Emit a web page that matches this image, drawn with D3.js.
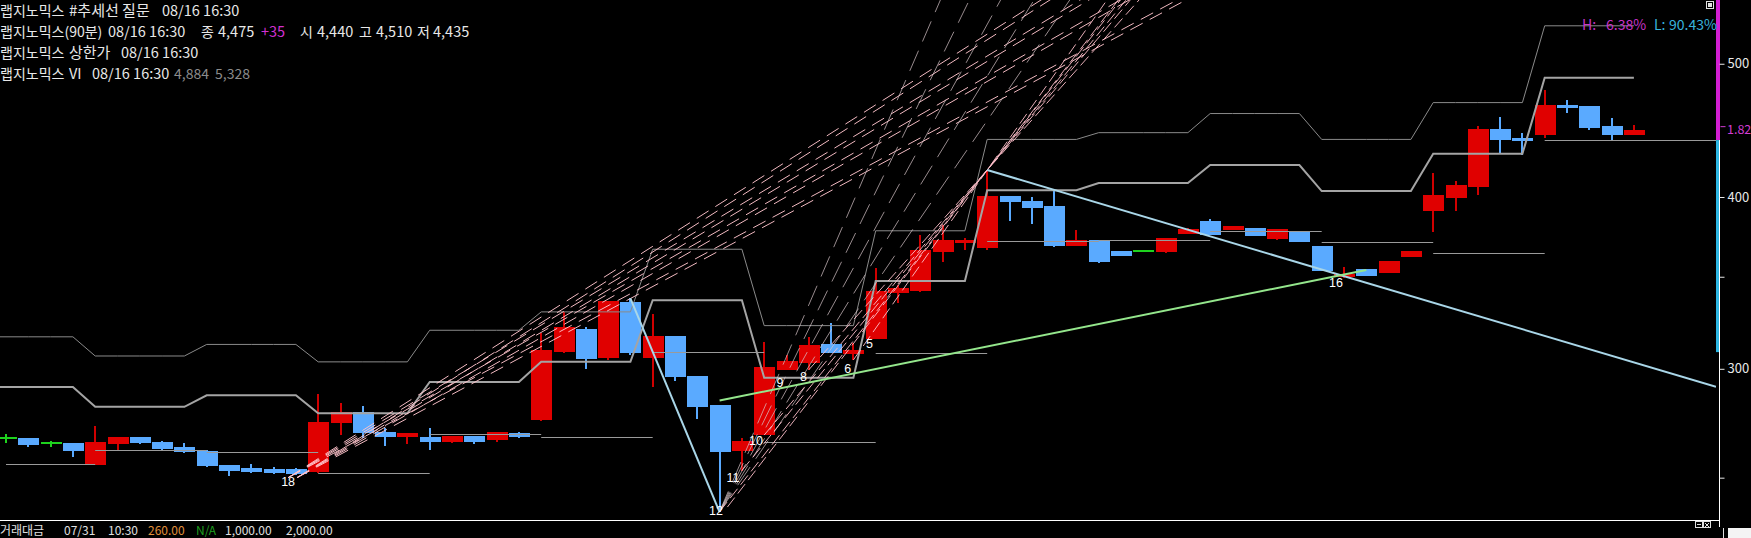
<!DOCTYPE html>
<html><head><meta charset="utf-8">
<script src="https://cdn.jsdelivr.net/npm/d3@7/dist/d3.min.js"></script>
<style>
html,body{margin:0;padding:0;background:#000;overflow:hidden;width:1751px;height:538px}
svg{display:block}
text{font-family:"Noto Sans CJK KR","Noto Sans",sans-serif}
</style></head><body>
<svg id="chart" width="1751" height="538"></svg>
<script>
// ---------------- data ----------------
const opens  = [2670,2670,2650,2650,2555,2645,2675,2655,2630,2615,2555,2540,2535,2535,2525,2740,2790,2700,2675,2675,2655,2680,2665,2695,2755,3085,3205,3055,3355,3055,3170,2965,2825,2615,2685,2995,3030,3125,3075,3155,3405,3420,3650,3705,3670,4005,3975,3940,3685,3725,3655,3655,3650,3760,3845,3785,3795,3730,3780,3685,3500,3545,3520,3620,3910,3995,4070,4480,4415,4440,4665,4660,4505,4440];
const highs  = [2690,2670,2660,2650,2725,2675,2675,2660,2650,2620,2555,2560,2545,2540,2875,2835,2820,2715,2695,2715,2680,2680,2700,2700,3185,3300,3220,3360,3375,3290,3170,2965,2825,2670,3140,3070,3165,3240,3130,3550,3450,3755,3815,3735,4185,4005,4000,4045,3785,3725,3655,3655,3735,3800,3855,3810,3795,3790,3780,3685,3560,3545,3595,3655,4165,4110,4505,4575,4455,4785,4705,4660,4565,4510];
const lows   = [2650,2630,2630,2590,2555,2620,2645,2620,2605,2545,2505,2520,2515,2510,2520,2685,2670,2635,2645,2620,2650,2645,2655,2670,2750,3080,3000,3045,3070,2910,2940,2760,2360,2530,2685,2995,2995,3080,3045,3155,3350,3410,3590,3660,3660,3845,3825,3680,3685,3580,3625,3655,3645,3760,3755,3785,3750,3725,3710,3535,3495,3505,3520,3620,3775,3910,4015,4305,4295,4415,4605,4475,4390,4435];
const closes = [2670,2640,2650,2615,2655,2675,2650,2625,2610,2550,2530,2525,2520,2515,2745,2790,2695,2675,2695,2655,2680,2655,2700,2675,3095,3215,3050,3360,3080,3170,2960,2815,2610,2660,3010,3040,3120,3080,3095,3415,3435,3660,3720,3725,4005,3970,3930,3685,3725,3590,3625,3655,3735,3790,3755,3810,3750,3790,3710,3535,3515,3505,3595,3655,4015,4080,4480,4400,4390,4665,4640,4490,4440,4475];

// trading days (5 bars of 90 min each) – first bar index of each day
const dayStarts  = [0,4,9,14,19,24,29,34,39,44,49,54,59,64,69];
const viStatic10 = [2910,2815,2870,2785,2935,3035,3365,2955,3475,4045,4095,4220,4040,4300,4884];
const viStatic20 = [3165,3065,3125,3035,3200,3300,3665,3225,3780,4405,4455,4600,4405,4685,5328];
const prevCloses = [2560,2620,2610,2520,2690,2675,3085,2655,3080,3715,3720,3780,3710,3645,4400];

// price axis
const majorTicks = [5000,4000,3000];
const majorTickLabels = ["500","400","300"];
const minorTicks = [3500,2500];
const currentPrice = 4475;
const currentLabel = "1.82";
const rangeBars = [[5800,4400,"#d21ed2"],[4400,3085,"#2cb6e4"]];

// wave count labels: [text, bar index, price]
const waveLabels = [["18",12.65,2465],["12",31.84,2350],["11",32.6,2482],["10",33.63,2641],["9",34.71,2910],["8",35.76,2939],["6",37.74,2979],["5",38.72,3106],["16",59.64,3440]];

// dashed trend fans: [i0, p0, i1, p1]  (extended beyond p1 to the top)
const gentleFan = [
  [12.65,2500,46.41,5563],[12.65,2500,48.16,5563],[12.65,2500,49.96,5563],[12.65,2500,52.51,5563],
  [13.05,2500,46.81,5563],[13.05,2500,48.56,5563],[13.05,2500,50.36,5563],[13.05,2500,52.91,5563]
];
const steepFan = [
  [32,2362,41.9,5563],[32,2362,43.2,5563],[32,2362,44.6,5563],[32,2362,46.1,5563],[32,2362,47.7,5563]
];
const peakFan = [
  [32,2362,44,4185],[32.35,2380,44,4185],[33,2530,44,4185],[34,2685,44,4185],[36,2995,44,4185],[38,3045,44,4185]
];
// solid trend lines: [i0,p0,i1,p1,color]
const solidTrends = [
  [28,3375,32,2360,"#a9d6e8"],
  [44,4185,76.68,2911,"#a9d6e8"],
  [32,2845,61.0,3540,"#94e68c"]
];

// header texts: [row, x, text, color, size]
const headerRows = [16,37,58,79];
const headerTexts = [
  [0,0,"랩지노믹스","#e8e8e8",14],[0,69,"#추세선 질문","#e8e8e8",15],[0,162,"08/16 16:30","#e8e8e8",14.5],
  [1,0,"랩지노믹스(90분)","#e8e8e8",14],[1,108,"08/16 16:30","#e8e8e8",14.5],[1,201,"종","#e8e8e8",14],[1,218,"4,475","#e8e8e8",14.5],
  [1,261,"+35","#d030d0",14.5],[1,300,"시","#e8e8e8",14],[1,317,"4,440","#e8e8e8",14.5],[1,359,"고","#e8e8e8",14],[1,376,"4,510","#e8e8e8",14.5],
  [1,417,"저","#e8e8e8",14],[1,433,"4,435","#e8e8e8",14.5],
  [2,0,"랩지노믹스","#e8e8e8",14],[2,69,"상한가","#e8e8e8",15],[2,121,"08/16 16:30","#e8e8e8",14.5],
  [3,0,"랩지노믹스","#e8e8e8",14],[3,69,"VI","#e8e8e8",14.5],[3,92,"08/16 16:30","#e8e8e8",14.5],[3,174,"4,884","#8c8c8c",14],[3,215,"5,328","#8c8c8c",14]
];
const hlTexts = [[1582,"H:","#c834c8"],[1606,"6.38%","#c834c8"],[1654,"L:","#38b4dc"],[1669,"90.43%","#38b4dc"]];
const footerTexts = [[0,"거래대금","#e0e0e0"],[64,"07/31","#e0e0e0"],[108,"10:30","#e0e0e0"],[148,"260.00","#e0903c"],[196,"N/A","#1e9e1e"],[225,"1,000.00","#e0e0e0"],[286,"2,000.00","#e0e0e0"]];

// ---------------- drawing ----------------
const RED="#e00000", RED_W="#d00000", BLUE="#5aaaff", GREEN="#1ed21e";
const svg = d3.select("#chart");
const x = d3.scaleLinear().domain([0,73]).range([6,1633.9]);
const y = d3.scaleLog().domain([3000,5000]).range([368.8,63.75]);
const bodyW = 21;
const plotRight = 1716, plotBottom = 519.5, axisX = 1719.5;

svg.append("rect").attr("width",1751).attr("height",538).attr("fill","#000");
svg.append("defs").append("clipPath").attr("id","plotclip")
  .append("rect").attr("x",0).attr("y",0).attr("width",plotRight).attr("height",plotBottom);
const plot = svg.append("g").attr("clip-path","url(#plotclip)");

const candles = opens.map((o,i)=>({i,o,h:highs[i],l:lows[i],c:closes[i]}));
const col = d => d.c>d.o ? RED : (d.c<d.o ? BLUE : GREEN);
const cx = i => Math.round(x(i));

const cg = plot.append("g").attr("shape-rendering","crispEdges");
cg.selectAll("rect.wick").data(candles).join("rect").attr("class","wick")
  .attr("x",d=>cx(d.i)-1).attr("width",2)
  .attr("y",d=>Math.round(y(d.h))).attr("height",d=>Math.max(1,Math.round(y(d.l))-Math.round(y(d.h))))
  .attr("fill",d=>d.c>d.o?RED_W:col(d));
cg.selectAll("rect.body").data(candles).join("rect").attr("class","body")
  .attr("x",d=>cx(d.i)-Math.floor(bodyW/2)).attr("width",bodyW)
  .attr("y",d=>d.o===d.c ? Math.round(y(d.o))-1 : Math.round(y(Math.max(d.o,d.c))))
  .attr("height",d=>d.o===d.c ? 2 : Math.max(2,Math.round(y(Math.min(d.o,d.c)))-Math.round(y(Math.max(d.o,d.c)))))
  .attr("fill",col);

// VI step lines
const dayOf = i => Math.max(0, d3.bisectRight(dayStarts,i)-1);
const stepIdx = d3.range(-1,74);
plot.append("path").datum(stepIdx)
  .attr("d",d3.line().x(i=>x(i)).y(i=>y(viStatic10[dayOf(i)])))
  .attr("fill","none").attr("stroke","#a4a4a4").attr("stroke-width",2);
plot.append("path").datum(stepIdx)
  .attr("d",d3.line().x(i=>x(i)).y(i=>y(viStatic20[dayOf(i)])))
  .attr("fill","none").attr("stroke","#8a8a8a").attr("stroke-width",1);

// previous close per day
plot.selectAll("line.pc").data(prevCloses).join("line").attr("class","pc")
  .attr("x1",(p,d)=>x(dayStarts[d]))
  .attr("x2",(p,d)=>d<dayStarts.length-1 ? x(dayStarts[d+1]) : x(80))
  .attr("y1",p=>Math.round(y(p))+0.5).attr("y2",p=>Math.round(y(p))+0.5)
  .attr("stroke","#9a9a9a").attr("stroke-width",1);

// extended dashed lines
function extended(l){
  const x0=x(l[0]), y0=y(l[1]), x1=x(l[2]), y1=y(l[3]);
  const t=(y0+6)/(y0-y1);
  return [x0,y0,x0+t*(x1-x0),-6];
}
function drawFan(data,color,dash,op){
  plot.selectAll(null).data(data.map(extended)).join("line")
    .attr("x1",d=>d[0]).attr("y1",d=>d[1]).attr("x2",d=>d[2]).attr("y2",d=>d[3])
    .attr("stroke",color).attr("stroke-width",1).attr("stroke-dasharray",dash).attr("opacity",op);
}
drawFan(gentleFan,"#ffc4cc","14,8",0.95);
drawFan(steepFan,"#d8c6ca","22,10",0.7);
drawFan(peakFan,"#ffc0cb","12,5",0.9);

// solid trend lines
plot.selectAll("line.tr").data(solidTrends).join("line").attr("class","tr")
  .attr("x1",d=>x(d[0])).attr("y1",d=>y(d[1])).attr("x2",d=>x(d[2])).attr("y2",d=>y(d[3]))
  .attr("stroke",d=>d[4]).attr("stroke-width",2);

// wave labels
plot.selectAll("text.wl").data(waveLabels).join("text").attr("class","wl")
  .attr("x",d=>x(d[1])).attr("y",d=>y(d[2])).attr("text-anchor","middle")
  .attr("fill","#ffffff").style("font-family","'Liberation Sans',Arial,sans-serif").style("font-size","12.5px")
  .text(d=>d[0]);

// ---------------- axis ----------------
svg.selectAll("rect.rb").data(rangeBars).join("rect").attr("class","rb")
  .attr("x",axisX-3.5).attr("width",4)
  .attr("y",d=>Math.max(0,y(d[0]))).attr("height",d=>y(d[1])-Math.max(0,y(d[0])))
  .attr("fill",d=>d[2]);
svg.append("line").attr("x1",axisX).attr("x2",axisX).attr("y1",y(4400)).attr("y2",527)
  .attr("stroke","#ffffff").attr("stroke-width",1);
const axisG = svg.append("g").attr("transform",`translate(${axisX},0)`);
axisG.call(d3.axisRight(y).tickValues(majorTicks.concat(minorTicks)).tickSize(5).tickPadding(3)
  .tickFormat(v=>{const k=majorTicks.indexOf(v);return k>=0?majorTickLabels[k]:"";}));
axisG.select(".domain").remove();
axisG.selectAll(".tick line").attr("stroke","#e8e8e8");
axisG.selectAll(".tick text").attr("fill","#e8e8e8").style("font-family","'Noto Sans CJK KR',sans-serif").style("font-size","13px");
svg.append("line").attr("x1",axisX+1).attr("x2",axisX+6).attr("y1",y(4500)).attr("y2",y(4500)).attr("stroke","#d23cd2");
svg.append("text").attr("x",1727).attr("y",y(currentPrice)).attr("dy","0.35em")
  .attr("fill","#d23cd2").style("font-size","12.5px").text(currentLabel);

// H/L header
svg.selectAll("text.hl").data(hlTexts).join("text").attr("class","hl")
  .attr("x",d=>d[0]).attr("y",30).attr("fill",d=>d[2]).style("font-size","14px").text(d=>d[1]);

// header
svg.selectAll("text.hd").data(headerTexts).join("text").attr("class","hd")
  .attr("x",d=>d[1]).attr("y",d=>headerRows[d[0]]).attr("fill",d=>d[3]).style("font-size",d=>d[4]+"px")
  .text(d=>d[2]);

// bottom separator & footer
svg.append("line").attr("x1",0).attr("x2",axisX).attr("y1",520.5).attr("y2",520.5).attr("stroke","#ffffff");
svg.selectAll("text.ft").data(footerTexts).join("text").attr("class","ft")
  .attr("x",d=>d[0]).attr("y",535).attr("fill",d=>d[2]).style("font-size","12px").text(d=>d[1]);

// small window icons
const ic = svg.append("g").attr("fill","none").attr("stroke","#e0e0e0").attr("shape-rendering","crispEdges");
ic.append("rect").attr("x",1706.5).attr("y",1.5).attr("width",7).attr("height",7);
ic.append("rect").attr("x",1708.5).attr("y",3.5).attr("width",3).attr("height",3).attr("fill","#e0e0e0");
ic.append("rect").attr("x",1695.5).attr("y",521.5).attr("width",7).attr("height",6);
ic.append("line").attr("x1",1697).attr("x2",1701).attr("y1",524.5).attr("y2",524.5);
ic.append("rect").attr("x",1703.5).attr("y",521.5).attr("width",7).attr("height",6);
ic.append("line").attr("x1",1705).attr("x2",1709).attr("y1",523).attr("y2",527);
ic.append("line").attr("x1",1709).attr("x2",1705).attr("y1",523).attr("y2",527);
svg.append("line").attr("x1",1723.5).attr("x2",1723.5).attr("y1",528).attr("y2",538).attr("stroke","#e0e0e0");
svg.append("rect").attr("x",1728).attr("y",528).attr("width",23).attr("height",10).attr("fill","#f4f4f4");
</script>
</body></html>
